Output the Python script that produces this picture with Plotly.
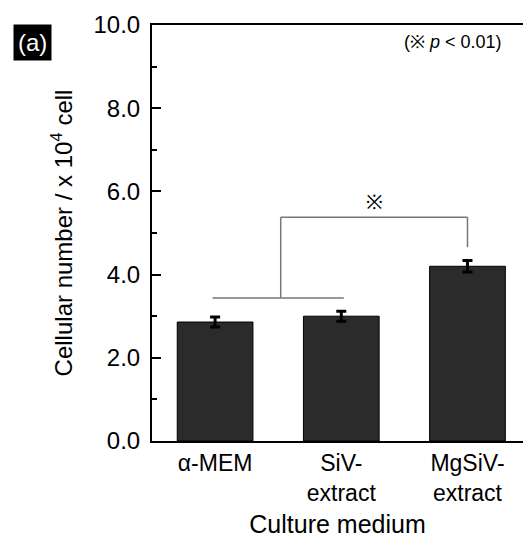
import plotly.graph_objects as go

categories = ["α-MEM", "SiV-<br>extract", "MgSiV-<br>extract"]
values = [2.86, 3.0, 4.2]
errors = [0.12, 0.12, 0.14]
y_ticks = [0, 2, 4, 6, 8, 10]
y_tick_labels = ["0.0", "2.0", "4.0", "6.0", "8.0", "10.0"]
bracket_low = 3.44
bracket_high = 5.38
bracket_drop = 4.66
star_y = 5.75

xs = list(range(len(categories)))

fig = go.Figure()
fig.add_trace(go.Bar(
    x=xs, y=values, width=0.6,
    marker=dict(color="#2b2b2b", line=dict(color="#000000", width=1)),
    error_y=dict(type="data", array=errors, color="#000000", thickness=3, width=5),
    showlegend=False,
))

line_style = dict(color="#777777", width=1.5)
fig.add_shape(type="line", xref="x", yref="y", x0=xs[0] - 0.02, x1=xs[1] + 0.02,
              y0=bracket_low, y1=bracket_low, line=line_style)
mid = (xs[0] + xs[1]) / 2 + 0.02
fig.add_shape(type="line", xref="x", yref="y", x0=mid, x1=mid,
              y0=bracket_low, y1=bracket_high, line=line_style)
fig.add_shape(type="line", xref="x", yref="y", x0=mid, x1=xs[2],
              y0=bracket_high, y1=bracket_high, line=line_style)
fig.add_shape(type="line", xref="x", yref="y", x0=xs[2], x1=xs[2],
              y0=bracket_high, y1=bracket_drop, line=line_style)
fig.add_annotation(x=(mid + xs[2]) / 2, y=star_y, xref="x", yref="y", text="※",
                   showarrow=False, font=dict(size=20, color="#000000"))

fig.add_annotation(xref="paper", yref="paper", x=0.948, y=0.988, xanchor="right", yanchor="top",
                   text="(※ <i>p</i> < 0.01)", showarrow=False,
                   font=dict(size=18, color="#000000", family="Liberation Sans"))

fig.add_annotation(xref="paper", yref="paper", x=-0.375, y=0.959, xanchor="left", yanchor="middle",
                   text="(a)", showarrow=False, bgcolor="#000000",
                   font=dict(size=24, color="#ffffff", family="Liberation Sans"),
                   borderpad=4)

fig.update_layout(
    width=523, height=543,
    margin=dict(l=152, r=0, t=25, b=102),
    paper_bgcolor="white", plot_bgcolor="white",
    font=dict(family="Liberation Sans", color="#000000"),
    bargap=0.4,
)
fig.update_xaxes(
    range=[-0.5, 2.44], tickvals=xs, ticktext=categories,
    showline=True, linecolor="#000000", linewidth=2, mirror=True,
    ticks="", showgrid=False, zeroline=False,
    tickfont=dict(size=23, family="Liberation Sans"),
    title=dict(text="Culture medium", font=dict(size=25), standoff=11),
)
fig.update_yaxes(
    range=[0, 10], tickvals=y_ticks, ticktext=y_tick_labels,
    showline=True, linecolor="#000000", linewidth=2,
    ticks="inside", ticklen=9, tickwidth=2, tickcolor="#000000",
    minor=dict(dtick=1, ticks="inside", ticklen=5, tickwidth=2, tickcolor="#000000", showgrid=False),
    showgrid=False, zeroline=False,
    ticklabelstandoff=5,
    tickfont=dict(size=24, family="Liberation Sans"),
    title=dict(text="Cellular number / x 10<sup>4</sup> cell", font=dict(size=24), standoff=14),
)

fig.write_html("out.html", post_script="document.body.style.margin='0px';",
               config={"displayModeBar": False})
